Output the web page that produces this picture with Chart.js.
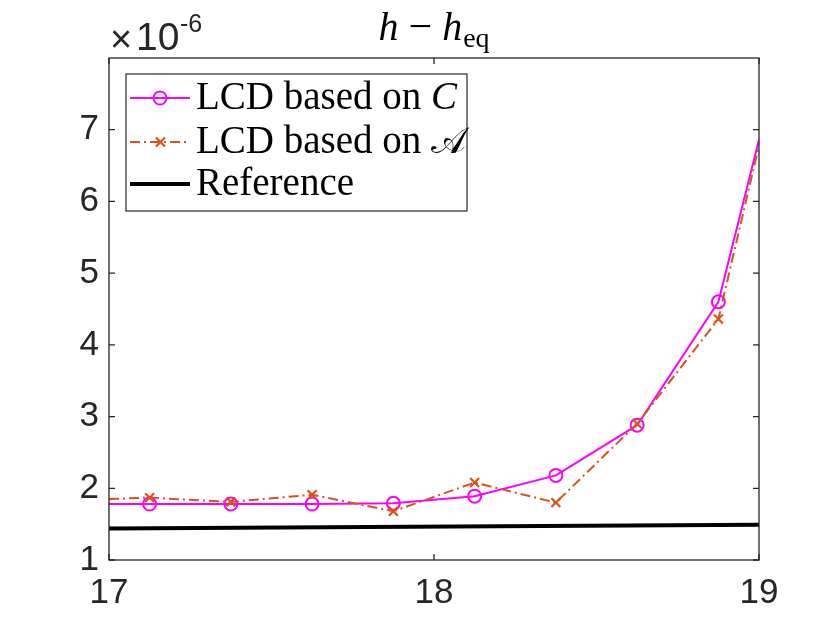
<!DOCTYPE html>
<html><head><meta charset="utf-8">
<script src="https://cdn.jsdelivr.net/npm/chart.js@4"></script>
<style>html,body{margin:0;padding:0;background:#fff}</style>
</head><body>
<canvas id="c" width="840" height="630"></canvas>
<script>
// ---- data (values in units of 1e-6) ----
const xPos     = [17, 17.125, 17.375, 17.625, 17.875, 18.125, 18.375, 18.625, 18.875, 19];
const lcdC     = [1.78, 1.78, 1.78, 1.78, 1.79, 1.89, 2.18, 2.88, 4.60, 6.86];
const lcdA     = [1.85, 1.87, 1.81, 1.91, 1.68, 2.08, 1.80, 2.90, 4.36, 6.78];
const xRef     = [17, 19];
const refVals  = [1.44, 1.49];
const xTicks   = [17, 18, 19];
const yTicks   = [1, 2, 3, 4, 5, 6, 7];
const seriesNames = ['LCD based on ', 'LCD based on ', 'Reference'];
const seriesSym   = ['C', '\u{1D49C}', ''];

const AX = '#262626';
const MAG = '#FF00FF', ORA = '#D95319';

const toPts = (xs, ys) => xs.map((x, i) => ({x, y: ys[i]}));
const markerR = r => xPos.map((x, i) => (i === 0 || i === xPos.length - 1) ? 0 : r);

const framePlugin = {
  id: 'frame',
  afterDraw(chart) {
    const {ctx, chartArea: a, scales} = chart;
    const xs = scales.x, ys = scales.y;
    ctx.save();
    ctx.strokeStyle = AX; ctx.lineWidth = 1.3;
    ctx.strokeRect(a.left, a.top, a.right - a.left, a.bottom - a.top);
    const tl = 6;
    ctx.beginPath();
    xTicks.forEach(v => { const p = xs.getPixelForValue(v);
      ctx.moveTo(p, a.bottom); ctx.lineTo(p, a.bottom - tl);
      ctx.moveTo(p, a.top); ctx.lineTo(p, a.top + tl); });
    yTicks.forEach(v => { const p = ys.getPixelForValue(v);
      ctx.moveTo(a.left, p); ctx.lineTo(a.left + tl, p);
      ctx.moveTo(a.right, p); ctx.lineTo(a.right - tl, p); });
    ctx.stroke();

    // exponent label
    ctx.fillStyle = AX; ctx.textBaseline = 'alphabetic'; ctx.textAlign = 'left';
    ctx.font = '38px "Liberation Sans"';
    ctx.fillText('\u00D7', 110, 52);
    ctx.font = '39px "Liberation Sans"';
    ctx.fillText('10', 136, 50);
    ctx.font = '25px "Liberation Sans"';
    ctx.fillText('-6', 180, 32);

    // title  h − h_eq
    ctx.fillStyle = '#000';
    const cx = (a.left + a.right) / 2;
    const parts = [
      {t: 'h', f: 'italic 40px "Liberation Serif"', dy: 0, gap: 10},
      {t: '\u2212', f: '42px "Liberation Serif"', dy: 0, gap: 10},
      {t: 'h', f: 'italic 40px "Liberation Serif"', dy: 0, gap: 1},
      {t: 'eq', f: '28px "Liberation Serif"', dy: 7, gap: 0}
    ];
    let tw = 0;
    parts.forEach(p => { ctx.font = p.f; p.w = ctx.measureText(p.t).width; tw += p.w + p.gap; });
    let x0 = cx - tw / 2;
    parts.forEach(p => { ctx.font = p.f; ctx.fillText(p.t, x0, 40 + p.dy); x0 += p.w + p.gap; });

    // legend
    const L = {x: 126, y: 74, w: 341, h: 137};
    ctx.fillStyle = '#fff';
    ctx.fillRect(L.x, L.y, L.w, L.h);
    ctx.strokeStyle = AX; ctx.lineWidth = 1.2;
    ctx.strokeRect(L.x, L.y, L.w, L.h);
    const rowsY = [98, 142, 184];
    chart.data.datasets.forEach((ds, i) => {
      const y = rowsY[i];
      ctx.save();
      ctx.strokeStyle = ds.borderColor; ctx.lineWidth = ds.borderWidth;
      ctx.setLineDash(ds.borderDash || []);
      ctx.beginPath(); ctx.moveTo(130, y); ctx.lineTo(190, y); ctx.stroke();
      ctx.setLineDash([]);
      if (ds.pointStyle === 'circle') {
        ctx.lineWidth = 2; ctx.beginPath(); ctx.arc(160, y, 6.5, 0, Math.PI * 2); ctx.stroke();
      } else if (ds.pointStyle === 'crossRot') {
        ctx.lineWidth = 2.2; ctx.beginPath();
        ctx.moveTo(156, y - 4.5); ctx.lineTo(165, y + 4.5);
        ctx.moveTo(165, y - 4.5); ctx.lineTo(156, y + 4.5); ctx.stroke();
      }
      ctx.restore();
      ctx.fillStyle = '#000';
      ctx.font = '39px "Liberation Serif"';
      ctx.fillText(seriesNames[i], 196, y + 11);
      if (seriesSym[i]) {
        const w = ctx.measureText(seriesNames[i]).width;
        ctx.font = i === 0 ? 'italic 39px "Liberation Serif"' : '37px "DejaVu Serif", "DejaVu Sans", serif';
        ctx.fillText(seriesSym[i], 196 + w, y + 11);
      }
    });
    ctx.restore();
  }
};

new Chart(document.getElementById('c'), {
  type: 'line',
  data: {
    datasets: [
      { label: 'LCD based on C', data: toPts(xPos, lcdC), borderColor: MAG, backgroundColor: 'rgba(0,0,0,0)',
        borderWidth: 2, pointStyle: 'circle', pointRadius: markerR(6.5), pointBorderWidth: 2,
        pointBorderColor: MAG, pointBackgroundColor: 'rgba(0,0,0,0)', order: 3, tension: 0 },
      { label: 'LCD based on A', data: toPts(xPos, lcdA), borderColor: ORA, backgroundColor: 'rgba(0,0,0,0)',
        borderWidth: 2, borderDash: [10, 4, 2, 4], pointStyle: 'crossRot', pointRadius: markerR(6.3),
        pointBorderWidth: 2.2, pointBorderColor: ORA, order: 2, tension: 0 },
      { label: 'Reference', data: toPts(xRef, refVals), borderColor: '#000', backgroundColor: 'rgba(0,0,0,0)',
        borderWidth: 4, pointRadius: 0, order: 1, tension: 0 }
    ]
  },
  options: {
    responsive: false, animation: false, devicePixelRatio: 1,
    layout: { padding: { left: 0, right: 81, top: 58, bottom: 0 } },
    plugins: { legend: { display: false }, title: { display: false }, tooltip: { enabled: false } },
    scales: {
      x: { type: 'linear', min: 17, max: 19,
        grid: { display: false, drawTicks: false }, border: { display: false },
        afterBuildTicks: s => { s.ticks = xTicks.map(v => ({value: v})); },
        afterFit: s => { s.height = 70; },
        ticks: { color: AX, font: { family: 'Liberation Sans', size: 35 }, padding: 12, maxRotation: 0 } },
      y: { type: 'linear', min: 1, max: 8,
        grid: { display: false, drawTicks: false }, border: { display: false },
        afterBuildTicks: s => { s.ticks = yTicks.map(v => ({value: v})); },
        afterFit: s => { s.width = 109; },
        ticks: { color: AX, font: { family: 'Liberation Sans', size: 35 }, padding: 10 } }
    }
  },
  plugins: [framePlugin]
});
</script>
</body></html>
